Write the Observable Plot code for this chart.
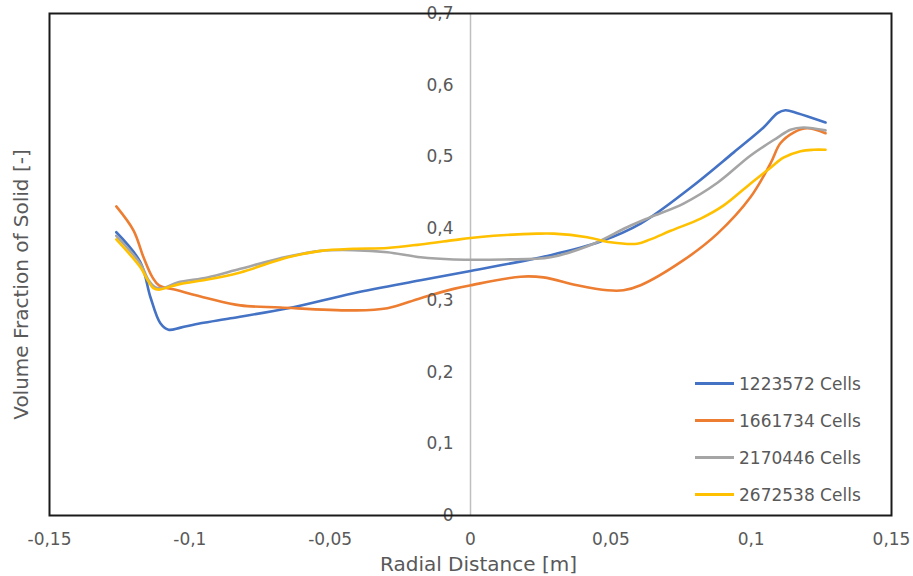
<!DOCTYPE html>
<html>
<head>
<meta charset="utf-8">
<script src="https://cdn.jsdelivr.net/npm/d3@7"></script>
<script src="https://cdn.jsdelivr.net/npm/@observablehq/plot@0.6"></script>
<style>
  body { margin: 0; background: #fff; }
  #wrap { position: relative; width: 913px; height: 576px; font-family: "DejaVu Sans", sans-serif; }
  #legend { position: absolute; left: 695px; top: 365px; color: #595959; font-size: 17px; }
  .row { display: flex; align-items: center; height: 37px; }
  .sw { width: 39px; height: 3px; margin-right: 5px; }
</style>
</head>
<body>
<div id="wrap"></div>
<script>
const seriesNames = ["1223572 Cells", "1661734 Cells", "2170446 Cells", "2672538 Cells"];
const seriesColors = ["#4472C4", "#ED7D31", "#A5A5A5", "#FFC000"];

const xBlue = [-0.1262, -0.1176, -0.114, -0.1105, -0.1076, -0.1033, -0.0962, -0.0855, -0.065, -0.0417, -0.0178, 0, 0.0285, 0.0463, 0.0606, 0.0784, 0.0937, 0.1044, 0.1094, 0.1122, 0.1165, 0.1265];
const yBlue = [0.395, 0.353, 0.304, 0.268, 0.259, 0.262, 0.268, 0.275, 0.289, 0.310, 0.328, 0.341, 0.363, 0.382, 0.407, 0.457, 0.506, 0.541, 0.561, 0.565, 0.561, 0.548];

const xOrange = [-0.1262, -0.12, -0.1165, -0.1133, -0.111, -0.1044, -0.0937, -0.082, -0.0677, -0.0417, -0.0296, -0.0178, -0.006, 0, 0.0178, 0.026, 0.038, 0.0488, 0.0545, 0.0606, 0.0759, 0.088, 0.0998, 0.1069, 0.1104, 0.1151, 0.12, 0.1265];
const yOrange = [0.431, 0.397, 0.360, 0.332, 0.321, 0.314, 0.303, 0.293, 0.290, 0.286, 0.289, 0.303, 0.316, 0.321, 0.333, 0.332, 0.321, 0.314, 0.314, 0.321, 0.356, 0.393, 0.444, 0.491, 0.519, 0.534, 0.540, 0.533];

const xGray = [-0.1262, -0.1176, -0.1147, -0.1122, -0.1097, -0.1044, -0.0937, -0.082, -0.065, -0.0534, -0.0417, -0.0296, -0.0178, -0.006, 0.012, 0.0285, 0.0439, 0.0558, 0.0641, 0.0759, 0.088, 0.0998, 0.1094, 0.114, 0.1186, 0.1265];
const yGray = [0.390, 0.351, 0.328, 0.318, 0.317, 0.325, 0.332, 0.344, 0.361, 0.369, 0.370, 0.367, 0.360, 0.357, 0.357, 0.360, 0.379, 0.402, 0.416, 0.435, 0.464, 0.502, 0.527, 0.538, 0.541, 0.537];

const xYellow = [-0.1262, -0.1176, -0.115, -0.113, -0.111, -0.108, -0.1033, -0.0937, -0.082, -0.065, -0.0534, -0.0417, -0.0296, -0.0178, -0.006, 0, 0.0083, 0.0238, 0.0297, 0.0416, 0.0499, 0.0594, 0.0641, 0.0713, 0.082, 0.0901, 0.0998, 0.1069, 0.1115, 0.1176, 0.1222, 0.1265];
const yYellow = [0.385, 0.346, 0.328, 0.317, 0.315, 0.318, 0.323, 0.329, 0.339, 0.360, 0.369, 0.372, 0.373, 0.378, 0.384, 0.387, 0.390, 0.393, 0.393, 0.388, 0.381, 0.379, 0.385, 0.397, 0.414, 0.432, 0.463, 0.485, 0.499, 0.508, 0.510, 0.510];

const xTicks = [-0.15, -0.1, -0.05, 0, 0.05, 0.1, 0.15];
const yTicks = [0, 0.1, 0.2, 0.3, 0.4, 0.5, 0.6, 0.7];

const fmt = d => String(d).replace(".", ",");
const toRows = (xs, ys, name) => xs.map((x, i) => ({x, y: ys[i], name}));
const allX = [xBlue, xOrange, xGray, xYellow];
const allY = [yBlue, yOrange, yGray, yYellow];
const rows = seriesNames.map((n, i) => toRows(allX[i], allY[i], n));

const textColor = "#595959";

const plot = Plot.plot({
  width: 913,
  height: 576,
  marginLeft: 49,
  marginRight: 22,
  marginTop: 13,
  marginBottom: 61,
  style: {fontFamily: "DejaVu Sans, sans-serif", fontSize: "17px", color: textColor, background: "#fff"},
  x: {domain: [-0.15, 0.15]},
  y: {domain: [0, 0.7], axis: null},
  marks: [
    Plot.ruleX([0], {stroke: "#bfbfbf", strokeWidth: 1.5}),
    ...rows.map((r, i) => Plot.line(r, {x: "x", y: "y", stroke: seriesColors[i], strokeWidth: 2.6, curve: "catmull-rom"})),
    Plot.text(yTicks, {x: 0, y: d => d, text: fmt, textAnchor: "end", dx: -17, fill: textColor, fontSize: 17}),
    Plot.axisX(xTicks, {tickSize: 0, tickPadding: 17, tickFormat: fmt, fill: textColor, fontSize: 17, label: null}),
    Plot.frame({stroke: "#1a1a1a", strokeWidth: 2}),
    Plot.text(["Radial Distance [m]"], {frameAnchor: "bottom", textAnchor: "middle", dy: 55, dx: 8, fill: textColor, fontSize: 20}),
    Plot.text(["Volume Fraction of Solid [-]"], {frameAnchor: "left", textAnchor: "middle", dx: -28, dy: 20, rotate: -90, fill: textColor, fontSize: 20})
  ]
});

const wrap = document.getElementById("wrap");
wrap.appendChild(plot);

const legend = document.createElement("div");
legend.id = "legend";
seriesNames.forEach((n, i) => {
  const row = document.createElement("div");
  row.className = "row";
  const sw = document.createElement("div");
  sw.className = "sw";
  sw.style.background = seriesColors[i];
  const t = document.createElement("span");
  t.textContent = n;
  row.appendChild(sw);
  row.appendChild(t);
  legend.appendChild(row);
});
wrap.appendChild(legend);
</script>
</body>
</html>
